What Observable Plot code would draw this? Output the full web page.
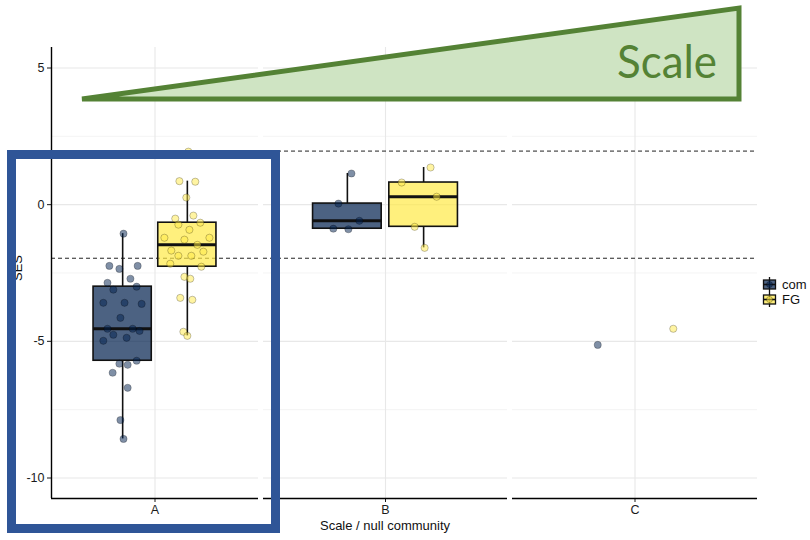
<!DOCTYPE html>
<html><head><meta charset="utf-8">
<script src="https://cdn.jsdelivr.net/npm/d3@7"></script>
<script src="https://cdn.jsdelivr.net/npm/@observablehq/plot@0.6"></script>
<style>
body{margin:0;background:#fff;font-family:"Liberation Sans",Arial,sans-serif;}
#wrap{position:relative;width:810px;height:540px;overflow:hidden;background:#fff;}
.panel{position:absolute;top:0;}
.lab{position:absolute;font-size:13px;color:#111;white-space:nowrap;}
#overlay{position:absolute;left:0;top:0;z-index:5;pointer-events:none;}
</style></head><body><div id="wrap"></div>
<script>
// ---- categories ----
const panels = ["A", "B", "C"];
const groups = ["com", "FG"];
const groupColors = ["#00204D", "#FFEA46"];
const majorBreaks = [5, 0, -5, -10];
const minorBreaks = [2.5, -2.5, -7.5];
const sigLines = [1.96, -1.96];

// ---- SES values and their jitter (x offset from the group centre, in x units) ----
const sesComA = [-1.06,-2.24,-2.35,-2.24,-2.71,-2.86,-3.11,-3.0,-3.59,-3.59,-3.63,-4.14,-4.54,-4.54,-4.62,-4.76,-4.87,-4.98,-5.82,-5.86,-5.71,-6.15,-6.70,-7.88,-8.57];
const jitComA = [0.005,-0.077,-0.019,0.087,0.045,-0.088,-0.054,0.081,-0.112,0.011,0.11,-0.013,-0.088,0.058,0.098,-0.054,0.023,-0.112,-0.019,0.029,0.081,-0.058,0.029,-0.013,0.005];
const sesFgA = [1.94,0.86,0.84,0.26,-0.40,-0.51,-0.66,-0.73,-0.92,-1.21,-1.21,-1.28,-1.47,-1.68,-1.72,-1.87,-1.87,-2.16,-2.27,-2.64,-2.71,-3.41,-3.48,-4.65,-4.80];
const jitFgA = [0.006,-0.046,0.046,-0.006,0.035,-0.07,0.075,-0.052,0.012,-0.133,0.128,-0.017,0.058,-0.093,0.093,-0.052,0.023,-0.099,0.081,-0.017,0.017,-0.041,0.029,-0.023,0];
const sesComB = [1.14,0.04,-0.59,-0.88,-0.90];
const jitComB = [0.02,-0.044,0.059,-0.069,0.005];
const sesFgB = [1.36,0.81,0.29,-0.81,-1.58];
const jitFgB = [0.034,-0.108,0.064,-0.044,0.005];
const sesComC = [-5.13];
const jitComC = [0.005];
const sesFgC = [-4.54];
const jitFgC = [0];

// ---- box statistics ----
const boxPanel = ["A","A","B","B"];
const boxGroup = ["com","FG","com","FG"];
const boxLow  = [-8.57,-4.80,-0.90,-1.58];
const boxQ1   = [-5.71,-2.27,-0.88,-0.81];
const boxMed  = [-4.54,-1.47,-0.59,0.29];
const boxQ3   = [-3.00,-0.66,0.04,0.81];
const boxHigh = [-1.06,0.86,1.14,1.36];

// ---- build tables ----
const groupCentre = {com: 0.8125, FG: 1.1875};
const BOXHALF = 0.16875;
const series = [
  ["A","com",sesComA,jitComA],["A","FG",sesFgA,jitFgA],
  ["B","com",sesComB,jitComB],["B","FG",sesFgB,jitFgB],
  ["C","com",sesComC,jitComC],["C","FG",sesFgC,jitFgC]
];
const points = series.flatMap(([panel, group, v, j]) =>
  v.map((ses, k) => ({panel, group, ses, x: groupCentre[group] + j[k]})));
const boxes = boxPanel.map((panel, k) => ({
  panel, group: boxGroup[k], xc: groupCentre[boxGroup[k]],
  lo: boxLow[k], q1: boxQ1[k], med: boxMed[k], q3: boxQ3[k], hi: boxHigh[k]
}));

// ---- layout ----
const panelLeft = [51, 263, 512];
const panelWidth = [207, 244, 245];
const Y0 = -10.75, Y1 = 5.75;
const wrap = document.getElementById("wrap");

panels.forEach((p, i) => {
  const first = i === 0;
  const ml = first ? panelLeft[0] : 0;
  const pts = points.filter(d => d.panel === p);
  const bx = boxes.filter(d => d.panel === p);
  const chart = Plot.plot({
    width: ml + panelWidth[i], height: 540,
    marginLeft: ml, marginRight: 0, marginTop: 47, marginBottom: 42,
    x: {domain: [0.4, 1.6], axis: null},
    y: {domain: [Y0, Y1], axis: null},
    color: {domain: groups, range: groupColors},
    style: {fontFamily: "Liberation Sans, Arial, sans-serif", fontSize: "12.5px", color: "#1a1a1a", background: "transparent", overflow: "visible"},
    marks: [
      Plot.ruleY(minorBreaks, {stroke: "#ededed", strokeWidth: 0.6}),
      Plot.ruleY(majorBreaks, {stroke: "#e8e8e8", strokeWidth: 1.1}),
      Plot.ruleX([1], {stroke: "#e8e8e8", strokeWidth: 1.1}),
      Plot.ruleY(sigLines, {stroke: "#222", strokeWidth: 1, strokeDasharray: "4,3"}),
      Plot.ruleX(bx, {x: "xc", y1: "lo", y2: "q1", stroke: "#111", strokeWidth: 1.6}),
      Plot.ruleX(bx, {x: "xc", y1: "q3", y2: "hi", stroke: "#111", strokeWidth: 1.6}),
      Plot.rect(bx, {x1: d => d.xc - BOXHALF, x2: d => d.xc + BOXHALF, y1: "q1", y2: "q3",
        fill: "group", fillOpacity: 0.7, stroke: "#111", strokeWidth: 1.6}),
      Plot.ruleY(bx, {y: "med", x1: d => d.xc - BOXHALF, x2: d => d.xc + BOXHALF, stroke: "#111", strokeWidth: 3}),
      Plot.dot(pts, {x: "x", y: "ses", r: 3.6, fill: "group", fillOpacity: 0.5,
        stroke: "#000", strokeOpacity: 0.3, strokeWidth: 0.8}),
      first ? Plot.axisY({ticks: majorBreaks, tickFormat: d => String(d), tickSize: 4, tickPadding: 3, label: null}) : null,
      Plot.axisX({ticks: [1], tickFormat: () => p, tickSize: 4, tickPadding: 3, label: null}),
      first ? Plot.ruleX([0.4], {stroke: "#000", strokeWidth: 1.4}) : null,
      Plot.ruleY([Y0], {stroke: "#000", strokeWidth: 1.4})
    ]
  });
  chart.classList.add("panel");
  chart.style.left = (first ? 0 : panelLeft[i]) + "px";
  wrap.appendChild(chart);
});

// axis titles
const yt = document.createElement("div");
yt.className = "lab"; yt.textContent = "SES";
yt.style.left = "17px"; yt.style.top = "268px";
yt.style.transform = "translate(-50%,-50%) rotate(-90deg)";
wrap.appendChild(yt);
const xt = document.createElement("div");
xt.className = "lab"; xt.textContent = "Scale / null community";
xt.style.left = "385px"; xt.style.top = "525px";
xt.style.transform = "translate(-50%,-50%)";
wrap.appendChild(xt);

// legend
const legend = document.createElement("div");
legend.style.cssText = "position:absolute;left:762px;top:277px;font-size:13px;color:#111;";
legend.innerHTML = groups.map((g, k) => `
  <div style="display:flex;align-items:center;height:15px;">
    <svg width="15" height="15" style="margin-right:5px">
      <line x1="7.5" x2="7.5" y1="0" y2="15" stroke="#111" stroke-width="1.3"/>
      <rect x="1.5" y="3" width="12" height="9" fill="${groupColors[k]}" fill-opacity="0.7" stroke="#111" stroke-width="1.3"/>
      <line x1="1.5" x2="13.5" y1="7.5" y2="7.5" stroke="#111" stroke-width="1.6"/>
      <circle cx="7.5" cy="7.5" r="3" fill="${groupColors[k]}" fill-opacity="0.5" stroke="#000" stroke-opacity="0.3"/>
    </svg><span>${g}</span></div>`).join("");
wrap.appendChild(legend);

// annotation overlay (scale wedge and highlight box)
const ns = "http://www.w3.org/2000/svg";
const ov = document.createElementNS(ns, "svg");
ov.setAttribute("id", "overlay"); ov.setAttribute("width", 810); ov.setAttribute("height", 540);
ov.innerHTML = `
  <polygon points="82,99 739,8 739,99" fill="#CFE4C3" stroke="#548235" stroke-width="5" stroke-linejoin="miter"/>
  <text x="717" y="78" text-anchor="end" font-family="Lato, 'Open Sans', sans-serif" font-size="46" fill="#548235" textLength="100" lengthAdjust="spacingAndGlyphs">Scale</text>
  <rect x="11.5" y="154.5" width="264" height="374" fill="none" stroke="#2F5597" stroke-width="9"/>`;
wrap.appendChild(ov);
</script></body></html>
